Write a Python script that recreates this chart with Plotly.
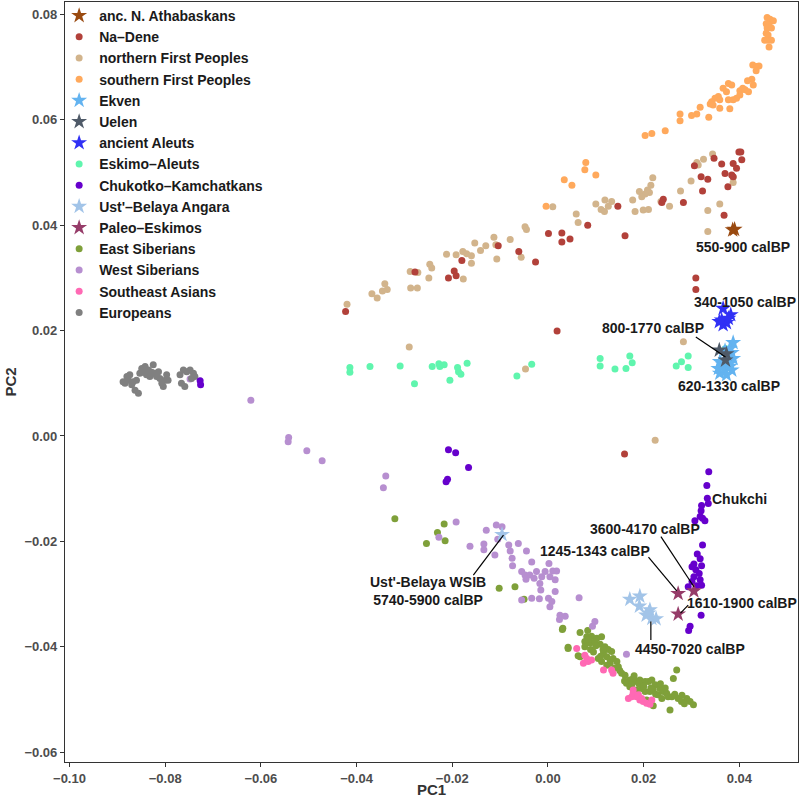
import plotly.graph_objects as go

# ---------------- data (PC1, PC2) ----------------
europeans_pc1 = [-0.0888,-0.0880,-0.0874,-0.0870,-0.0863,-0.0856,-0.0849,-0.0842,-0.0835,-0.0832,-0.0825,-0.0821,-0.0814,-0.0811,-0.0807,-0.0804,-0.0797,-0.0794,-0.0877,-0.0867,-0.0853,-0.0846,-0.0839,-0.0828,-0.0818,-0.0800,-0.0860,-0.0884,-0.0769,-0.0762,-0.0755,-0.0748,-0.0741,-0.0738,-0.0766,-0.0759,-0.0745]
europeans_pc2 = [0.0103,0.0113,0.0116,0.0097,0.0087,0.0081,0.0128,0.0132,0.0125,0.0113,0.0135,0.0119,0.0122,0.0109,0.0100,0.0094,0.0116,0.0106,0.0106,0.0103,0.0119,0.0121,0.0116,0.0121,0.0113,0.0106,0.0106,0.0100,0.0116,0.0125,0.0122,0.0125,0.0119,0.0113,0.0100,0.0094,0.0109]

west_sib_pc1 = [-0.0748,-0.0621,-0.0542,-0.0543,-0.0504,-0.0472,-0.0339,-0.0344,-0.0192,-0.0228,-0.0129,-0.0108,-0.0134,-0.0134,-0.0163,-0.0111,-0.0105,-0.0096,-0.0082,-0.0062,-0.0079,-0.0075,-0.0045,-0.0034,0.0002,-0.0074,-0.0055,-0.0048,-0.0038,-0.0046,-0.0024,-0.0013,-0.0006,0.0010,0.0018,0.0004,-0.0017,-0.0029,0.0015,0.0015,-0.0015,-0.0055,-0.0034,-0.0018,0.0001,0.0008,0.0004,0.0065,0.0025,0.0036,0.0024,0.0098,0.0093,0.0164]
west_sib_pc2 = [0.0108,0.0068,-0.0003,-0.0011,-0.0028,-0.0047,-0.0076,-0.0098,-0.0163,-0.0192,-0.0179,-0.0169,-0.0205,-0.0216,-0.0209,-0.0226,-0.0196,-0.0172,-0.0207,-0.0204,-0.0218,-0.0232,-0.0218,-0.0239,-0.0242,-0.0246,-0.0257,-0.0264,-0.0264,-0.0272,-0.0257,-0.0267,-0.0257,-0.0256,-0.0256,-0.0267,-0.0280,-0.0270,-0.0273,-0.0295,-0.0292,-0.0311,-0.0308,-0.0309,-0.0308,-0.0314,-0.0324,-0.0307,-0.0340,-0.0342,-0.0348,-0.0352,-0.0361,-0.0414]

east_sib_pc1 = [-0.0320,-0.0217,-0.0231,-0.0215,-0.0254,-0.0102,-0.0069,-0.0050,0.0031,0.0042,0.0063,
                0.0030,0.0067,0.0083,0.0081,0.0091,0.0102,0.0112,0.0077,0.0088,0.0098,0.0109,0.0119,0.0126,0.0133,0.0116,0.0123,0.0105,0.0136,0.0144,0.0130,0.0112,0.0123,0.0147,0.0154,0.0161,0.0171,0.0178,0.0185,0.0192,0.0203,0.0210,0.0217,0.0224,0.0164,0.0171,0.0185,0.0196,0.0203,0.0213,0.0220,0.0234,0.0241,0.0248,0.0230,0.0238,0.0251,0.0259,0.0272,0.0279,0.0290,0.0297,0.0304,0.0269,0.0262,0.0255,0.0220,0.0206,0.0042,0.0067,0.0089,0.0077,
                0.0140,0.0150,0.0180,0.0190,0.0200,0.0225,0.0245,0.0265,0.0280,0.0160,0.0175,0.0095,0.0110,0.0130,0.0085,0.0100,0.0115,0.0285,0.0215,0.0235]
east_sib_pc2 = [-0.0157,-0.0167,-0.0183,-0.0199,-0.0204,-0.0289,-0.0286,-0.0310,-0.0365,-0.0401,-0.0417,
                -0.0367,-0.0373,-0.0369,-0.0381,-0.0380,-0.0384,-0.0381,-0.0390,-0.0393,-0.0390,-0.0395,-0.0400,-0.0405,-0.0409,-0.0412,-0.0419,-0.0422,-0.0422,-0.0428,-0.0431,-0.0428,-0.0435,-0.0438,-0.0450,-0.0454,-0.0463,-0.0460,-0.0466,-0.0463,-0.0466,-0.0466,-0.0463,-0.0472,-0.0469,-0.0476,-0.0482,-0.0479,-0.0485,-0.0485,-0.0482,-0.0479,-0.0485,-0.0488,-0.0491,-0.0498,-0.0495,-0.0495,-0.0498,-0.0504,-0.0498,-0.0504,-0.0510,-0.0444,-0.0460,-0.0520,-0.0512,-0.0501,-0.0403,-0.0419,-0.0405,-0.0400,
                -0.0440,-0.0445,-0.0455,-0.0470,-0.0475,-0.0490,-0.0478,-0.0490,-0.0492,-0.0465,-0.0472,-0.0410,-0.0418,-0.0425,-0.0386,-0.0398,-0.0405,-0.0508,-0.0478,-0.0470]

se_asian_pc1 = [0.0060,0.0077,0.0074,0.0084,0.0091,0.0081,0.0116,0.0136,0.0133,0.0178,0.0168,0.0175,0.0185,0.0192,0.0199,0.0206,0.0178,0.0189,0.0196,0.0217,0.0213]
se_asian_pc2 = [-0.0403,-0.0416,-0.0431,-0.0428,-0.0425,-0.0422,-0.0444,-0.0450,-0.0444,-0.0482,-0.0498,-0.0495,-0.0495,-0.0501,-0.0504,-0.0507,-0.0488,-0.0491,-0.0498,-0.0501,-0.0509]

chukotko_pc1 = [-0.0727,-0.0726,-0.0208,-0.0193,-0.0166,-0.0210,-0.0213,
                0.0336,0.0332,0.0333,0.0335,0.0321,0.0320,0.0318,0.0307,0.0323,0.0328,0.0323,0.0312,0.0318,0.0305,0.0301,0.0321,0.0309,0.0316,0.0305,0.0301,0.0293,0.0318,0.0321,0.0311,0.0320,0.0297,0.0294]
chukotko_pc2 = [0.0105,0.0097,-0.0026,-0.0032,-0.0060,-0.0082,-0.0087,
                -0.0068,-0.0094,-0.0118,-0.0128,-0.0132,-0.0142,-0.0153,-0.0161,-0.0156,-0.0161,-0.0207,-0.0224,-0.0233,-0.0243,-0.0248,-0.0246,-0.0254,-0.0261,-0.0267,-0.0276,-0.0286,-0.0273,-0.0283,-0.0284,-0.0340,-0.0361,-0.0369]

eskimo_pc1 = [-0.0414,-0.0414,-0.0372,-0.0309,-0.0279,-0.0242,-0.0228,-0.0226,-0.0217,-0.0189,-0.0187,-0.0182,-0.0205,-0.0169,-0.0065,-0.0034,
              0.0109,0.0109,0.0140,0.0163,0.0171,0.0176,0.0268,0.0279,0.0293,0.0293,0.0371]
eskimo_pc2 = [0.0130,0.0121,0.0132,0.0133,0.0099,0.0132,0.0137,0.0132,0.0135,0.0130,0.0122,0.0117,0.0106,0.0138,0.0114,0.0136,
              0.0147,0.0133,0.0127,0.0128,0.0152,0.0139,0.0133,0.0141,0.0152,0.0130,0.0166]

na_dene_pc1 = [0.0399,0.0403,0.0405,0.0347,0.0363,0.0387,0.0394,0.0384,0.0387,0.0370,0.0306,0.0320,0.0334,0.0323,0.0376,0.0283,0.0241,0.0238,0.0146,0.0083,0.0046,0.0029,0.0029,0.0161,0.0368,0.0309,0.0309,
               0.0001,-0.0026,-0.0061,-0.0104,-0.0180,-0.0196,-0.0192,-0.0208,-0.0278,-0.0423,0.0019,0.0160]
na_dene_pc2 = [0.0539,0.0539,0.0524,0.0527,0.0516,0.0517,0.0508,0.0495,0.0492,0.0498,0.0513,0.0492,0.0487,0.0465,0.0473,0.0443,0.0449,0.0443,0.0436,0.0400,0.0374,0.0385,0.0368,0.0380,0.0419,0.0300,0.0278,
               0.0384,0.0330,0.0350,0.0361,0.0333,0.0313,0.0304,0.0300,0.0311,0.0236,0.0199,-0.0034]

north_fp_pc1 = [0.0010,-0.0048,-0.0045,-0.0079,-0.0113,-0.0109,-0.0130,-0.0141,-0.0153,-0.0107,-0.0056,-0.0160,-0.0160,-0.0170,-0.0178,-0.0192,-0.0212,-0.0243,-0.0247,-0.0249,-0.0272,-0.0288,-0.0273,-0.0287,-0.0177,-0.0336,-0.0341,-0.0346,-0.0420,-0.0368,-0.0357,-0.0290,-0.0047,
                0.0344,0.0325,0.0311,0.0314,0.0299,0.0277,0.0254,0.0236,0.0219,0.0215,0.0208,0.0212,0.0203,0.0191,0.0196,0.0177,0.0182,0.0199,0.0210,0.0133,0.0126,0.0119,0.0100,0.0111,0.0118,0.0059,0.0063,0.0359,0.0334,0.0334,0.0387,0.0387,0.0283,0.0224]
north_fp_pc2 = [0.0435,0.0397,0.0392,0.0373,0.0377,0.0363,0.0361,0.0352,0.0366,0.0336,0.0339,0.0342,0.0328,0.0346,0.0350,0.0344,0.0345,0.0319,0.0326,0.0300,0.0310,0.0312,0.0281,0.0281,0.0298,0.0278,0.0289,0.0275,0.0250,0.0270,0.0262,0.0169,0.0127,
                0.0535,0.0525,0.0519,0.0514,0.0484,0.0465,0.0436,0.0445,0.0490,0.0476,0.0467,0.0462,0.0459,0.0464,0.0454,0.0448,0.0426,0.0429,0.0430,0.0445,0.0436,0.0448,0.0440,0.0430,0.0426,0.0421,0.0405,0.0440,0.0428,0.0388,0.0481,0.0491,0.0179,-0.0008]

south_fp_pc1 = [0.0458,0.0464,0.0471,0.0456,0.0462,0.0458,0.0467,0.0456,0.0460,0.0453,0.0460,0.0467,0.0462,0.0428,0.0436,0.0441,0.0435,0.0426,0.0417,0.0429,0.0407,0.0401,0.0412,0.0419,0.0377,0.0384,0.0366,0.0373,0.0401,0.0394,0.0387,0.0377,0.0356,0.0349,0.0342,0.0339,0.0345,0.0359,0.0318,0.0311,0.0300,0.0336,0.0359,0.0380,0.0276,0.0276,0.0245,0.0217,0.0203,
                0.0079,0.0077,0.0100,0.0034,0.0050,-0.0004]
south_fp_pc2 = [0.0794,0.0791,0.0788,0.0782,0.0780,0.0774,0.0774,0.0764,0.0761,0.0751,0.0751,0.0751,0.0738,0.0704,0.0701,0.0702,0.0693,0.0677,0.0674,0.0666,0.0660,0.0655,0.0657,0.0653,0.0669,0.0666,0.0660,0.0653,0.0647,0.0641,0.0638,0.0638,0.0644,0.0641,0.0634,0.0630,0.0628,0.0638,0.0624,0.0611,0.0608,0.0605,0.0622,0.0621,0.0611,0.0598,0.0579,0.0574,0.0570,
                0.0519,0.0505,0.0495,0.0486,0.0476,0.0436]

# ancient samples (stars)
athabaskan_pc1 = [0.0386, 0.0390]
athabaskan_pc2 = [0.0391, 0.0392]
ekven_pc1 = [0.0387,0.0380,0.0370,0.0384,0.0359,0.0377,0.0387,0.0366,0.0380,0.0356,0.0370,0.0384,0.0359,0.0373,0.0380]
ekven_pc2 = [0.0177,0.0166,0.0162,0.0158,0.0141,0.0144,0.0147,0.0135,0.0132,0.0128,0.0125,0.0125,0.0119,0.0116,0.0138]
uelen_pc1 = [0.0358, 0.0373, 0.0371]
uelen_pc2 = [0.0163, 0.0156, 0.0144]
aleut_pc1 = [0.0366,0.0382,0.0358,0.0373,0.0366,0.0363,0.0377]
aleut_pc2 = [0.0242,0.0230,0.0217,0.0215,0.0211,0.0220,0.0223]
ust_pc1 = [-0.0096,0.0171,0.0192,0.0191,0.0213,0.0205,0.0217,0.0226,0.0210]
ust_pc2 = [-0.0187,-0.0310,-0.0304,-0.0323,-0.0330,-0.0340,-0.0346,-0.0347,-0.0336]
paleo_pc1 = [0.0272, 0.0305, 0.0272]
paleo_pc2 = [-0.0299, -0.0294, -0.0338]

# labels: text, PC1, PC2
label_text = ["550-900 calBP", "340-1050 calBP", "800-1770 calBP", "620-1330 calBP", "Chukchi",
              "3600-4170 calBP", "1245-1343 calBP", "1610-1900 calBP",
              "Ust'-Belaya WSIB<br>5740-5900 calBP", "4450-7020 calBP"]
label_pc1 = [0.0408, 0.0412, 0.0220, 0.0378, 0.0401, 0.0202, 0.0099, 0.0405, -0.0251, 0.0297]
label_pc2 = [0.0359, 0.0255, 0.0204, 0.0094, -0.0120, -0.0177, -0.0218, -0.0316, -0.0294, -0.0404]
# connector segments: (x0, y0, x1, y1)
seg_x0 = [0.0309, -0.0156, 0.0236, 0.0210, 0.0293, 0.0215]
seg_y0 = [0.0188, -0.0264, -0.0191, -0.0230, -0.0321, -0.0352]
seg_x1 = [0.0371, -0.0093, 0.0305, 0.0269, 0.0277, 0.0215]
seg_y1 = [0.0150, -0.0188, -0.0286, -0.0294, -0.0336, -0.0387]

FONT = "Liberation Sans, Arial, Helvetica, sans-serif"

groups = [
    # name, x, y, color, symbol, rank
    ("East Siberians", east_sib_pc1, east_sib_pc2, "#7FA03A", "circle", 12),
    ("West Siberians", west_sib_pc1, west_sib_pc2, "#B78FD0", "circle", 13),
    ("Southeast Asians", se_asian_pc1, se_asian_pc2, "#FF69B4", "circle", 14),
    ("Europeans", europeans_pc1, europeans_pc2, "#808080", "circle", 15),
    ("Eskimo–Aleuts", eskimo_pc1, eskimo_pc2, "#60F5AE", "circle", 8),
    ("Chukotko–Kamchatkans", chukotko_pc1, chukotko_pc2, "#6600CC", "circle", 9),
    ("northern First Peoples", north_fp_pc1, north_fp_pc2, "#D2B48C", "circle", 3),
    ("Na–Dene", na_dene_pc1, na_dene_pc2, "#B2413A", "circle", 2),
    ("southern First Peoples", south_fp_pc1, south_fp_pc2, "#FFA95C", "circle", 4),
    ("Ekven", ekven_pc1, ekven_pc2, "#63B3F0", "star", 5),
    ("Uelen", uelen_pc1, uelen_pc2, "#4F5A68", "star", 6),
    ("ancient Aleuts", aleut_pc1, aleut_pc2, "#3030F5", "star", 7),
    ("Ust'–Belaya Angara", ust_pc1, ust_pc2, "#A2C4E8", "star", 10),
    ("Paleo–Eskimos", paleo_pc1, paleo_pc2, "#963C69", "star", 11),
    ("anc. N. Athabaskans", athabaskan_pc1, athabaskan_pc2, "#9A4A10", "star", 1),
]

fig = go.Figure()
for name, xs, ys, col, sym, rank in groups:
    size = 7 if sym == "circle" else 12
    fig.add_trace(go.Scatter(
        x=xs, y=ys, mode="markers", name=name, legendrank=rank,
        marker=dict(color=col, symbol=sym, size=size, line=dict(width=0)),
    ))

for i in range(len(seg_x0)):
    fig.add_shape(type="line", x0=seg_x0[i], y0=seg_y0[i], x1=seg_x1[i], y1=seg_y1[i],
                  xref="x", yref="y", line=dict(color="black", width=1.2))

for t, x, y in zip(label_text, label_pc1, label_pc2):
    fig.add_annotation(x=x, y=y, text=t, showarrow=False, xref="x", yref="y",
                       font=dict(family=FONT, size=14, color="#1A1A1A", weight="bold"))

axis_common = dict(
    showgrid=False, zeroline=False, showline=True, mirror=True,
    linecolor="#333333", linewidth=1.2, ticks="outside", ticklen=4,
    tickcolor="#333333", tickwidth=1.2, automargin=False,
    tickfont=dict(family=FONT, size=13, color="#4D4D4D", weight="bold"),
)

fig.update_layout(
    width=800, height=798,
    margin=dict(l=65, r=2, t=2, b=36, autoexpand=False),
    paper_bgcolor="white", plot_bgcolor="white",
    font=dict(family=FONT),
    showlegend=True,
    legend=dict(x=-0.008, y=1.006, yref="container", xanchor="left", yanchor="top",
                bgcolor="rgba(0,0,0,0)",
                font=dict(family=FONT, size=14, color="#1A1A1A", weight="bold"),
                tracegroupgap=0, itemsizing="trace"),
    xaxis=dict(range=[-0.10094, 0.05225], tickvals=[-0.10, -0.08, -0.06, -0.04, -0.02, 0.0, 0.02, 0.04],
               tickformat=".2f",
               title=dict(text="PC1", font=dict(family=FONT, size=15, color="#333333", weight="bold"), standoff=0),
               **axis_common),
    yaxis=dict(range=[-0.06186, 0.08235], tickvals=[-0.06, -0.04, -0.02, 0.0, 0.02, 0.04, 0.06, 0.08],
               tickformat=".2f",
               title=dict(text="PC2", font=dict(family=FONT, size=15, color="#333333", weight="bold"), standoff=4),
               **axis_common),
)

fig.write_html("out.html", config={"displayModeBar": False},
               post_script="document.body.style.margin='0px';document.body.style.overflow='hidden';")
